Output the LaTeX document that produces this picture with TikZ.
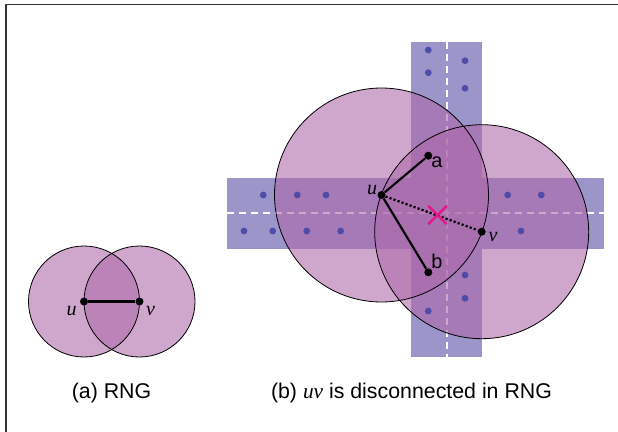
\documentclass[tikz,border=0pt]{standalone}
\usepackage{fontspec}
\setmainfont{Liberation Sans}
\newfontfamily\lbserif{Liberation Serif}
\usepackage{xcolor}
\usetikzlibrary{positioning,shapes.misc}

\definecolor{stripcol}{RGB}{155,149,201}
\definecolor{diskcol}{RGB}{173,104,169}
\definecolor{seedcol}{RGB}{70,70,165}
\definecolor{crosscol}{RGB}{229,20,135}

\tikzset{
	frame/.style={line width=1.1pt, black!80},
	strip/.style={fill=stripcol},
	axis/.style={white, line width=1.5pt, dash pattern=on 5.5pt off 3.5pt},
	seed/.style={fill=seedcol, fill opacity=0.9},
	disk/.style={fill=diskcol, fill opacity=0.58},
	rim/.style={draw=black, line width=0.6pt},
	vtx/.style={circle, fill=black, inner sep=0pt, minimum size=6pt},
	edge/.style={line width=1.6pt},
	nonedge/.style={line width=1.7pt, dash pattern=on 1.6pt off 1.6pt},
	lab/.style={inner sep=0pt, font=\fontsize{15}{17}\selectfont},
	captext/.style={inner sep=0pt, font=\fontsize{16}{19}\selectfont}
}

\begin{document}
\begin{tikzpicture}[x=0.75pt,y=-0.75pt]
	\useasboundingbox (0,0) rectangle (618,432);
	\draw[frame] (6,432) -- (6,4.5) -- (618,4.5);
	
	% (a) two disks
	\def\ra{55.5}
	\coordinate (pu) at (84,301.5);
	\coordinate (pv) at (139.5,301.5);
	\fill[disk] (pu) circle[radius=\ra];
	\fill[disk] (pv) circle[radius=\ra];
	\draw[rim] (pu) circle[radius=\ra];
	\draw[rim] (pv) circle[radius=\ra];
	\node[vtx] (u1) at (pu) {};
	\node[vtx] (v1) at (pv) {};
	\draw[edge] (u1) -- (v1);
	\node[lab] (u1l) at (71.5,311.5) {\lbserif\itshape u};
	\node[lab] (v1l) at (150.5,311.5) {\lbserif\itshape v};
	\node[captext] (capa) at (111.5,393) {(a) RNG};
	
	% (b) strips
	\fill[strip] (411,42) rectangle (482,357);
	\fill[strip] (227,178) rectangle (604,248.5);
	\draw[axis] (446.5,42) -- (446.5,357);
	\draw[axis] (227,213) -- (604,213);
	
	% (b) disks
	\def\rb{107}
	\coordinate (qu) at (381.5,195);
	\coordinate (qv) at (481.7,231.7);
	\fill[disk] (qu) circle[radius=\rb];
	\fill[disk] (qv) circle[radius=\rb];
	\draw[rim] (qu) circle[radius=\rb];
	\draw[rim] (qv) circle[radius=\rb];
	
	\foreach \p in {(428.3,50),(465,60.7),(428.3,72.7),(465,88.3),
		(465,275),(465,298.3),(428.3,311),
		(263.3,195),(297.3,195),(326,195),(507.7,195),(541.3,195),
		(244,231),(272.7,231),(306.7,231),(340.7,231),(521,231)} {
		\fill[seed] \p circle[radius=3.4];
	}
	
	\node[vtx] (u) at (qu) {};
	\node[vtx] (v) at (qv) {};
	\node[vtx] (a) at (428.3,155.7) {};
	\node[vtx] (b) at (428.3,272.3) {};
	\draw[edge] (u) -- (a);
	\draw[edge] (u) -- (b);
	\draw[nonedge] (u) -- (v);
	\node[cross out, draw=crosscol, line width=1.7pt, minimum size=12pt, inner sep=0pt] (x) at (437.5,215) {};
	
	\node[lab] (ul) at (372,190.5) {\lbserif\itshape u};
	\node[lab] (vl) at (493,237.5) {\lbserif\itshape v};
	\node[lab] (al) at (437,162) {a};
	\node[lab] (bl) at (437,261) {b};
	\node[captext] (capb) at (411.5,393) {(b) {\lbserif\itshape uv} is disconnected in RNG};
\end{tikzpicture}
\end{document}
